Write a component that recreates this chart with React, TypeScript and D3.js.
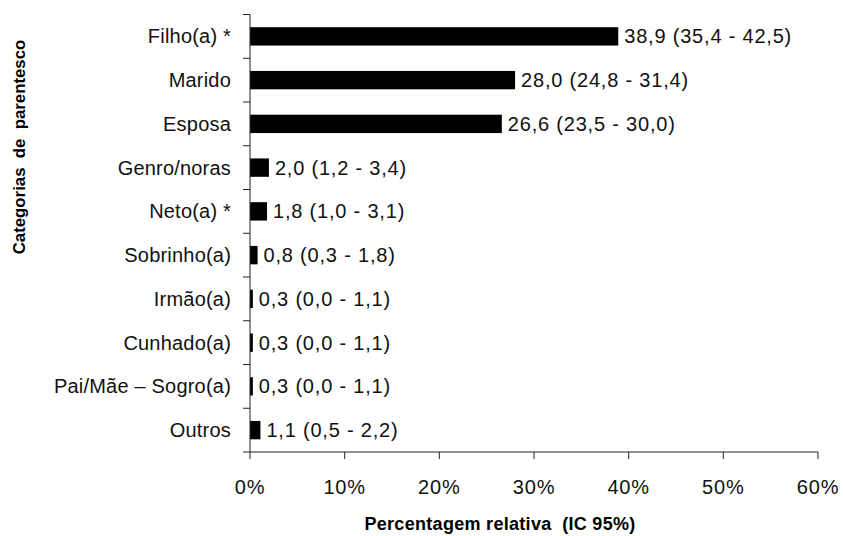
import { useEffect, useRef } from 'react';
import * as d3 from 'd3';

// Relative percentage by kinship category, with 95% CI
const categories = [
  'Filho(a) *',
  'Marido',
  'Esposa',
  'Genro/noras',
  'Neto(a) *',
  'Sobrinho(a)',
  'Irmão(a)',
  'Cunhado(a)',
  'Pai/Mãe – Sogro(a)',
  'Outros',
];
const values = [38.9, 28.0, 26.6, 2.0, 1.8, 0.8, 0.3, 0.3, 0.3, 1.1];
const ciLow = [35.4, 24.8, 23.5, 1.2, 1.0, 0.3, 0.0, 0.0, 0.0, 0.5];
const ciHigh = [42.5, 31.4, 30.0, 3.4, 3.1, 1.8, 1.1, 1.1, 1.1, 2.2];
const xTicks = [0, 10, 20, 30, 40, 50, 60];

const WIDTH = 843;
const HEIGHT = 536;
const FONT = '"Liberation Sans", Arial, Helvetica, sans-serif';

const fmt = (v: number) => v.toFixed(1).replace('.', ',');

export default function App() {
  const svgRef = useRef<SVGSVGElement>(null);

  useEffect(() => {
    if (!svgRef.current) return;
    const svg = d3.select(svgRef.current);
    svg.selectAll('*').remove();

    const margin = { top: 14.5, right: 25, bottom: 84, left: 250 };
    const innerWidth = WIDTH - margin.left - margin.right;
    const innerHeight = HEIGHT - margin.top - margin.bottom;

    const x = d3.scaleLinear().domain([0, 60]).range([0, 568]);
    const y = d3.scaleBand()
      .domain(categories)
      .range([0, innerHeight])
      .paddingInner(0.58)
      .paddingOuter(0.29);

    const g = svg.append('g')
      .attr('transform', `translate(${margin.left},${margin.top})`);

    // Bars
    g.selectAll('rect.bar')
      .data(categories)
      .join('rect')
      .attr('class', 'bar')
      .attr('x', 0)
      .attr('y', d => y(d) || 0)
      .attr('width', (_, i) => x(values[i]))
      .attr('height', y.bandwidth())
      .attr('fill', '#000');

    // Value labels
    g.selectAll('text.val')
      .data(categories)
      .join('text')
      .attr('class', 'val')
      .attr('x', (_, i) => x(values[i]) + 6)
      .attr('y', d => (y(d) || 0) + y.bandwidth() / 2 + 7)
      .attr('font-family', FONT)
      .attr('font-size', '20px')
      .attr('letter-spacing', '0.8px')
      .attr('fill', '#111')
      .text((_, i) => `${fmt(values[i])} (${fmt(ciLow[i])} - ${fmt(ciHigh[i])})`);

    // Y axis (category boundaries as ticks)
    const step = y.step();
    g.append('line')
      .attr('x1', 0).attr('x2', 0)
      .attr('y1', 0).attr('y2', innerHeight)
      .attr('stroke', '#222');
    d3.range(categories.length + 1).forEach(k => {
      g.append('line')
        .attr('x1', -7).attr('x2', 0)
        .attr('y1', k * step).attr('y2', k * step)
        .attr('stroke', '#222');
    });

    // Category labels
    g.selectAll('text.cat')
      .data(categories)
      .join('text')
      .attr('class', 'cat')
      .attr('x', -19)
      .attr('y', d => (y(d) || 0) + y.bandwidth() / 2 + 7)
      .attr('text-anchor', 'end')
      .attr('font-family', FONT)
      .attr('font-size', '20px')
      .attr('letter-spacing', '0.2px')
      .attr('fill', '#111')
      .style('white-space', 'pre')
      .text(d => d);

    // X axis
    g.append('line')
      .attr('x1', 0).attr('x2', innerWidth)
      .attr('y1', innerHeight).attr('y2', innerHeight)
      .attr('stroke', '#222');
    xTicks.forEach(t => {
      g.append('line')
        .attr('x1', x(t)).attr('x2', x(t))
        .attr('y1', innerHeight).attr('y2', innerHeight + 7)
        .attr('stroke', '#222');
      g.append('text')
        .attr('x', x(t))
        .attr('y', innerHeight + 42)
        .attr('text-anchor', 'middle')
        .attr('font-family', FONT)
        .attr('font-size', '20px')
        .attr('letter-spacing', '0.8px')
        .attr('fill', '#111')
        .text(`${t}%`);
    });

    // Axis titles
    svg.append('text')
      .attr('x', 500)
      .attr('y', 530)
      .attr('text-anchor', 'middle')
      .attr('font-family', FONT)
      .attr('font-weight', 'bold')
      .attr('font-size', '18px')
      .attr('letter-spacing', '0.3px')
      .attr('fill', '#000')
      .style('white-space', 'pre')
      .text('Percentagem relativa  (IC 95%)');

    svg.append('text')
      .attr('transform', 'rotate(-90)')
      .attr('x', -147)
      .attr('y', 25)
      .attr('text-anchor', 'middle')
      .attr('font-family', FONT)
      .attr('font-weight', 'bold')
      .attr('font-size', '16.8px')
      .attr('fill', '#000')
      .style('white-space', 'pre')
      .text('Categorias  de  parentesco');
  }, []);

  return (
    <div style={{ position: 'absolute', left: 0, top: 0, width: WIDTH, height: HEIGHT, background: '#fff' }}>
      <svg ref={svgRef} width={WIDTH} height={HEIGHT} />
    </div>
  );
}
